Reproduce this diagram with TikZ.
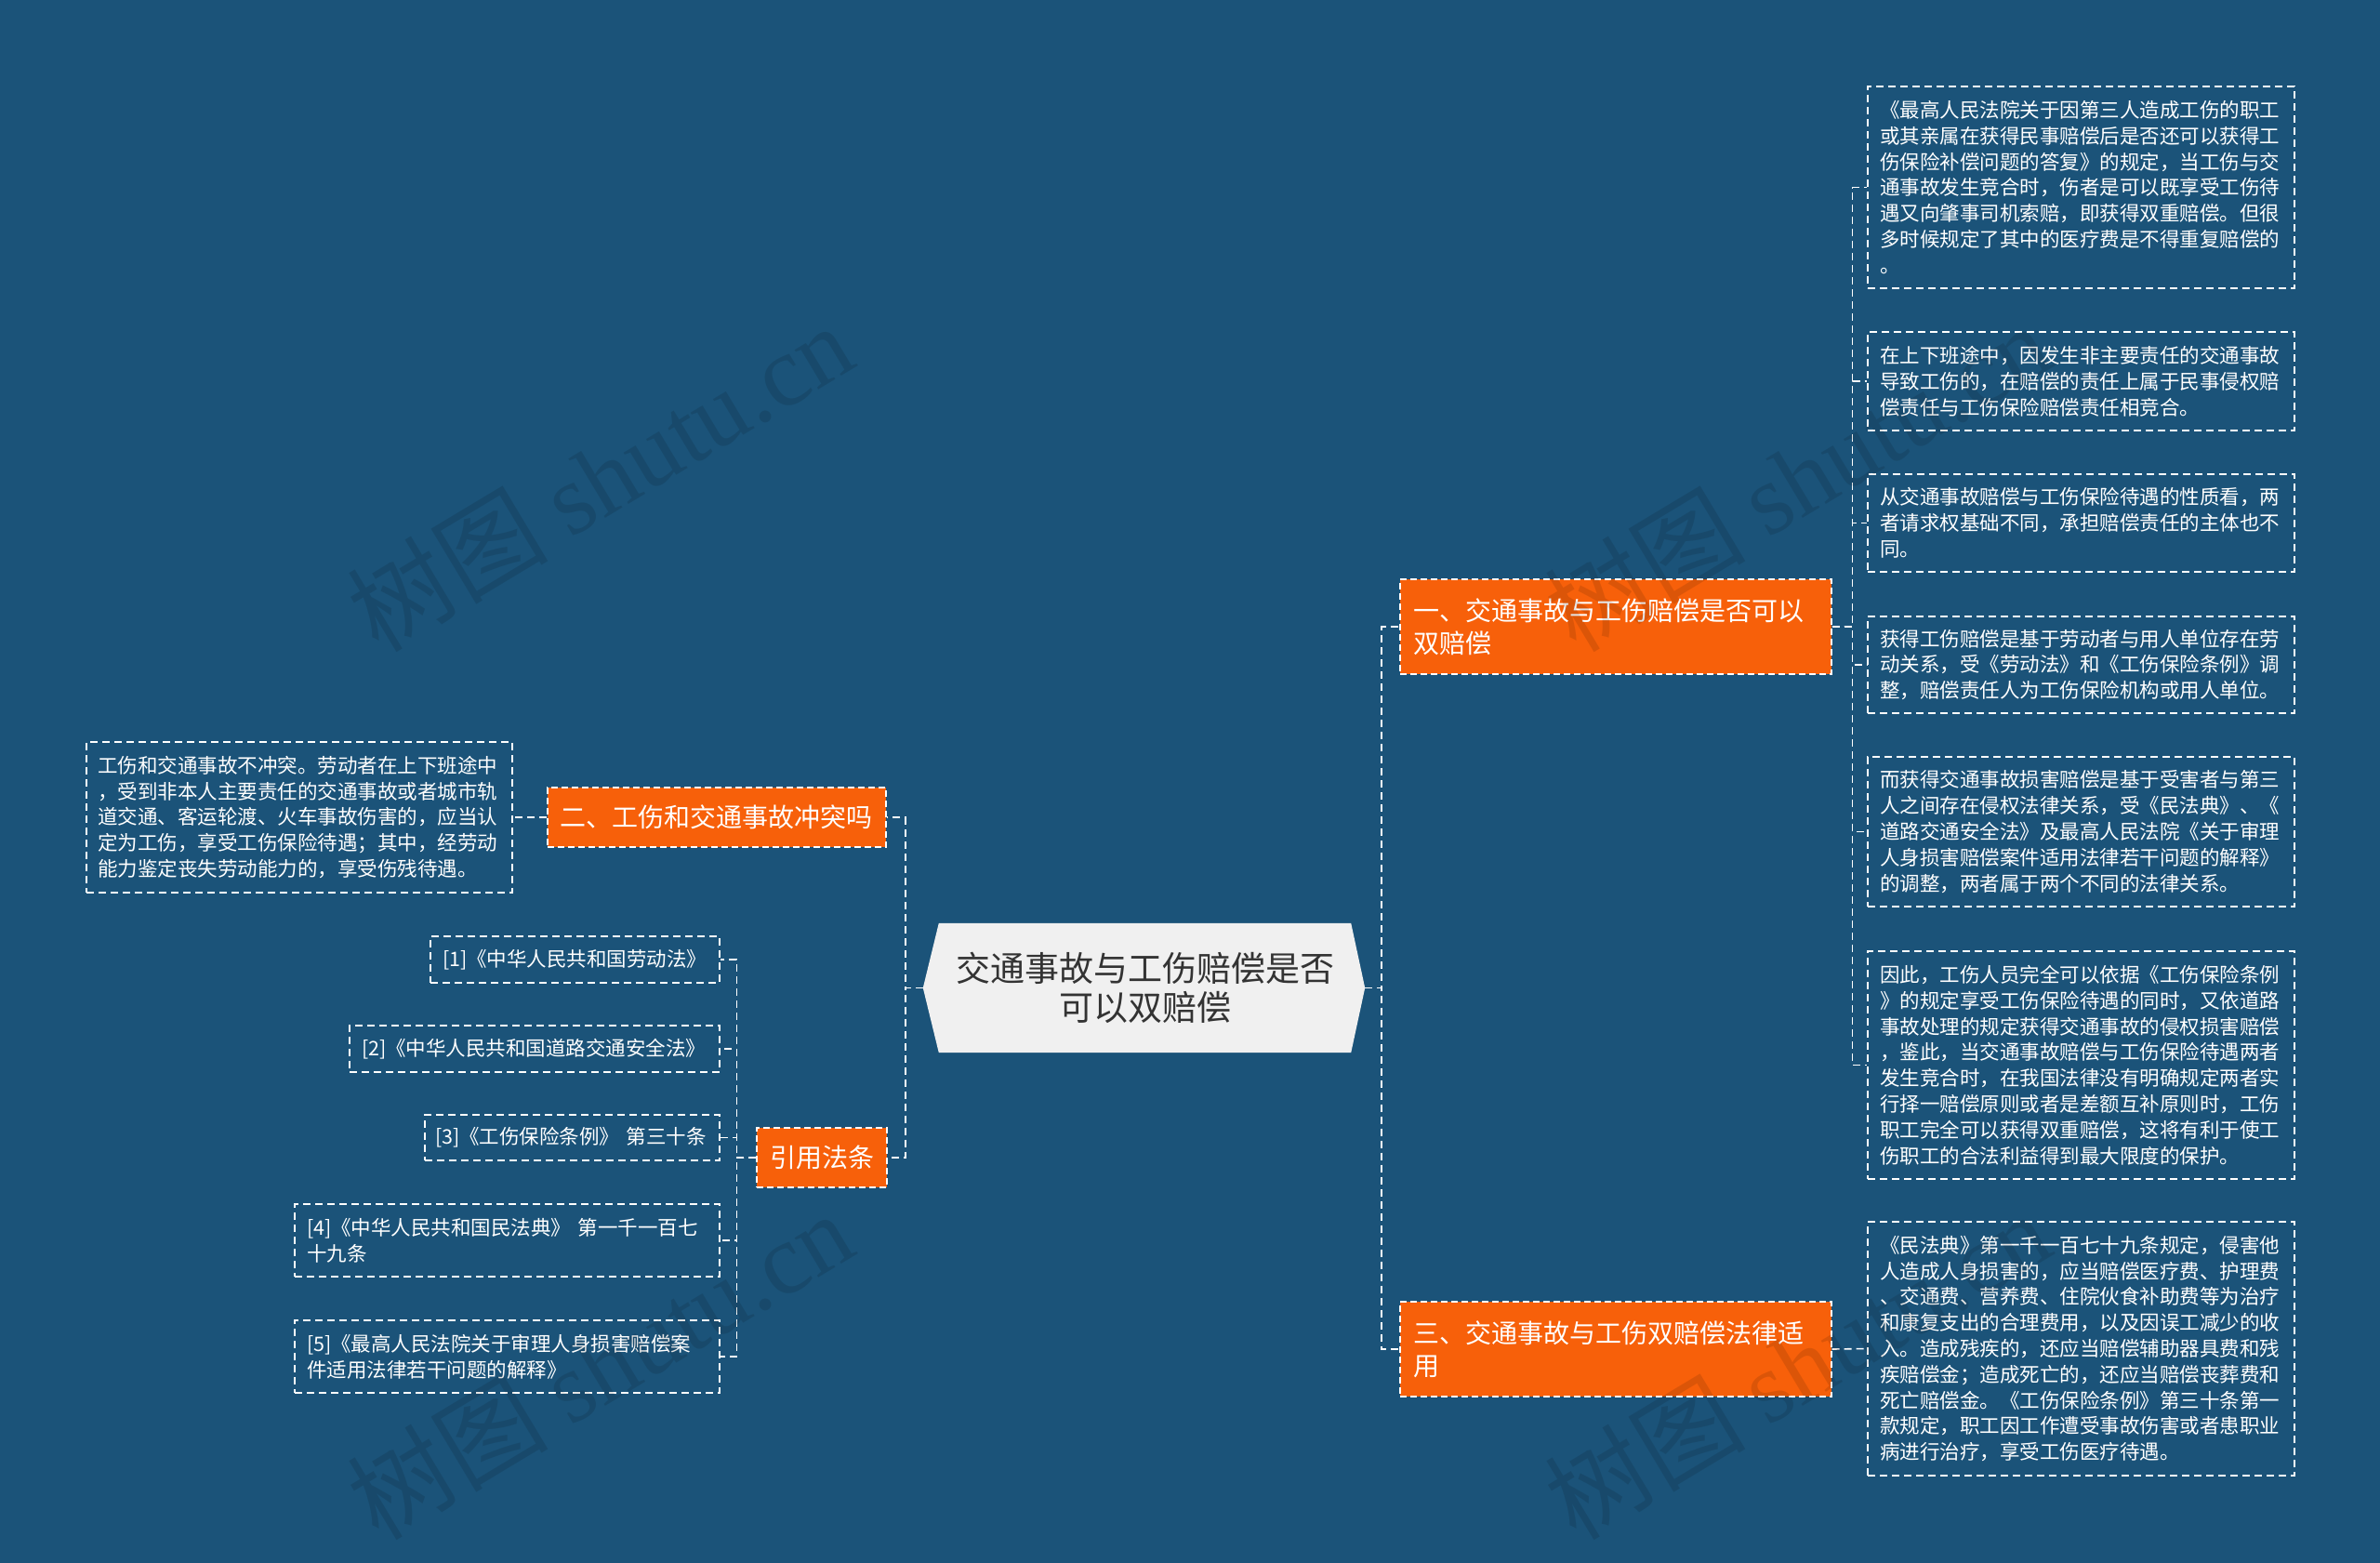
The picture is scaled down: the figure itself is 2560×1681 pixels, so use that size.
\documentclass[tikz,border=0pt]{standalone}
\usepackage{fontspec}
\setmainfont{Noto Sans CJK SC}
\newfontfamily\wmlatin{Liberation Serif}
\usetikzlibrary{calc,backgrounds}
\definecolor{bgblue}{HTML}{1B5379}
\definecolor{orng}{HTML}{F7600A}
\definecolor{ctrfill}{HTML}{F0F0F0}
\definecolor{ctrtext}{HTML}{333333}
\begin{document}
\begin{tikzpicture}[x=1pt,y=-1pt,
  conn/.style={draw=white, line width=1.6pt, dash pattern=on 8pt off 5pt},
  detail/.style={draw=white, line width=1.6pt, dash pattern=on 8pt off 5pt, text=white, align=left, inner xsep=13pt, inner ysep=0pt, font=\fontsize{21.5}{27.8}\selectfont},
  topic/.style={fill=orng, draw=white, line width=1.3pt, dash pattern=on 7pt off 4pt, text=white, align=left, inner xsep=14pt, inner ysep=0pt, font=\fontsize{28}{35}\selectfont},
  ctrnode/.style={text=ctrtext, align=center, inner sep=0pt, minimum width=443pt, minimum height=139pt, font=\fontsize{37}{42}\selectfont},
  wm/.style={text=black, opacity=0.11, font=\fontsize{108}{112}\selectfont, rotate=31},
]
\useasboundingbox (0,0) rectangle (2560,1681);

% central node
\node[ctrnode] (c) at (1231.5,1062.5) {交通事故与工伤赔偿是否\\可以双赔偿};
\coordinate (cL) at ($(c.west)+(-17,0)$);
\coordinate (cR) at ($(c.east)+(15,0)$);
\begin{scope}[on background layer]
\fill[bgblue] (0,0) rectangle (2560,1681);
\fill[ctrfill] (c.north west) -- (cL) -- (c.south west) -- (c.south east) -- (cR) -- (c.north east) -- cycle;
\end{scope}

% level-1 topics
\node[topic, text width=436pt, minimum height=102pt] (n1) at (1738,674) {一、交通事故与工伤赔偿是否可以\\双赔偿};
\node[topic, text width=436pt, minimum height=102pt] (n3) at (1738,1451) {三、交通事故与工伤双赔偿法律适\\用};
\node[topic, text width=338pt, inner xsep=13pt, minimum height=64pt] (n2) at (771,879) {二、工伤和交通事故冲突吗};
\node[topic, text width=112pt, minimum height=64pt] (nr) at (884,1245) {引用法条};

% right detail boxes
\node[detail, text width=433pt, minimum height=217pt] (d1) at (2238.5,201.5) {《最高人民法院关于因第三人造成工伤的职工\\或其亲属在获得民事赔偿后是否还可以获得工\\伤保险补偿问题的答复》的规定，当工伤与交\\通事故发生竞合时，伤者是可以既享受工伤待\\遇又向肇事司机索赔，即获得双重赔偿。但很\\多时候规定了其中的医疗费是不得重复赔偿的\\。};
\node[detail, text width=433pt, minimum height=106pt] (d2) at (2238.5,410) {在上下班途中，因发生非主要责任的交通事故\\导致工伤的，在赔偿的责任上属于民事侵权赔\\偿责任与工伤保险赔偿责任相竞合。};
\node[detail, text width=433pt, minimum height=105pt] (d3) at (2238.5,562.5) {从交通事故赔偿与工伤保险待遇的性质看，两\\者请求权基础不同，承担赔偿责任的主体也不\\同。};
\node[detail, text width=433pt, minimum height=104pt] (d4) at (2238.5,715) {获得工伤赔偿是基于劳动者与用人单位存在劳\\动关系，受《劳动法》和《工伤保险条例》调\\整，赔偿责任人为工伤保险机构或用人单位。};
\node[detail, text width=433pt, minimum height=161pt] (d5) at (2238.5,894.5) {而获得交通事故损害赔偿是基于受害者与第三\\人之间存在侵权法律关系，受《民法典》、《\\道路交通安全法》及最高人民法院《关于审理\\人身损害赔偿案件适用法律若干问题的解释》\\的调整，两者属于两个不同的法律关系。};
\node[detail, text width=433pt, minimum height=245pt] (d6) at (2238.5,1145.5) {因此，工伤人员完全可以依据《工伤保险条例\\》的规定享受工伤保险待遇的同时，又依道路\\事故处理的规定获得交通事故的侵权损害赔偿\\，鉴此，当交通事故赔偿与工伤保险待遇两者\\发生竞合时，在我国法律没有明确规定两者实\\行择一赔偿原则或者是差额互补原则时，工伤\\职工完全可以获得双重赔偿，这将有利于使工\\伤职工的合法利益得到最大限度的保护。};
\node[detail, text width=433pt, minimum height=273pt] (d7) at (2238.5,1450.5) {《民法典》第一千一百七十九条规定，侵害他\\人造成人身损害的，应当赔偿医疗费、护理费\\、交通费、营养费、住院伙食补助费等为治疗\\和康复支出的合理费用，以及因误工减少的收\\入。造成残疾的，还应当赔偿辅助器具费和残\\疾赔偿金；造成死亡的，还应当赔偿丧葬费和\\死亡赔偿金。《工伤保险条例》第三十条第一\\款规定，职工因工作遭受事故伤害或者患职业\\病进行治疗，享受工伤医疗待遇。};

% left detail box
\node[detail, text width=434pt, inner xsep=12pt, minimum height=162pt] (b8) at (322,879) {工伤和交通事故不冲突。劳动者在上下班途中\\，受到非本人主要责任的交通事故或者城市轨\\道交通、客运轮渡、火车事故伤害的，应当认\\定为工伤，享受工伤保险待遇；其中，经劳动\\能力鉴定丧失劳动能力的，享受伤残待遇。};

% references
\node[detail, text width=285pt, minimum height=50pt] (r1) at (618.5,1032) {[1]《中华人民共和国劳动法》};
\node[detail, text width=372pt, minimum height=50pt] (r2) at (575,1128) {[2]《中华人民共和国道路交通安全法》};
\node[detail, text width=295pt, inner xsep=11pt, minimum height=49pt] (r3) at (615.5,1223.5) {\mbox{[3]《工伤保险条例》 第三十条}};
\node[detail, text width=431pt, minimum height=78pt] (r4) at (545.5,1334) {[4]《中华人民共和国民法典》~第一千一百七\\十九条};
\node[detail, text width=431pt, minimum height=78pt] (r5) at (545.5,1459) {[5]《最高人民法院关于审理人身损害赔偿案\\件适用法律若干问题的解释》};

% connectors right
\draw[conn] (cR) -- ++(18,0) |- (n1.west);
\draw[conn] (cR) -- ++(18,0) |- (n3.west);
\foreach \d in {d1,d2,d3,d4,d5,d6} \draw[conn] (n1.east) -- ++(22,0) |- (\d.west);
\draw[conn] (n3.east) -- (d7.west);
% connectors left
\draw[conn] (cL) -- ++(-19,0) |- (n2.east);
\draw[conn] (cL) -- ++(-19,0) |- (nr.east);
\draw[conn] (n2.west) -- (b8.east);
\foreach \r in {r1,r2,r3,r4,r5} \draw[conn] (nr.west) -- ++(-21,0) |- (\r.east);

% watermarks (drawn over everything, faint)
\node[wm] (w1) at (645,513) {树图 {\wmlatin shutu.cn}};
\node[wm] (w2) at (1933,513) {树图 {\wmlatin shutu.cn}};
\node[wm] (w3) at (645,1468) {树图 {\wmlatin shutu.cn}};
\node[wm] (w4) at (1933,1468) {树图 {\wmlatin shutu.cn}};
\end{tikzpicture}
\end{document}
